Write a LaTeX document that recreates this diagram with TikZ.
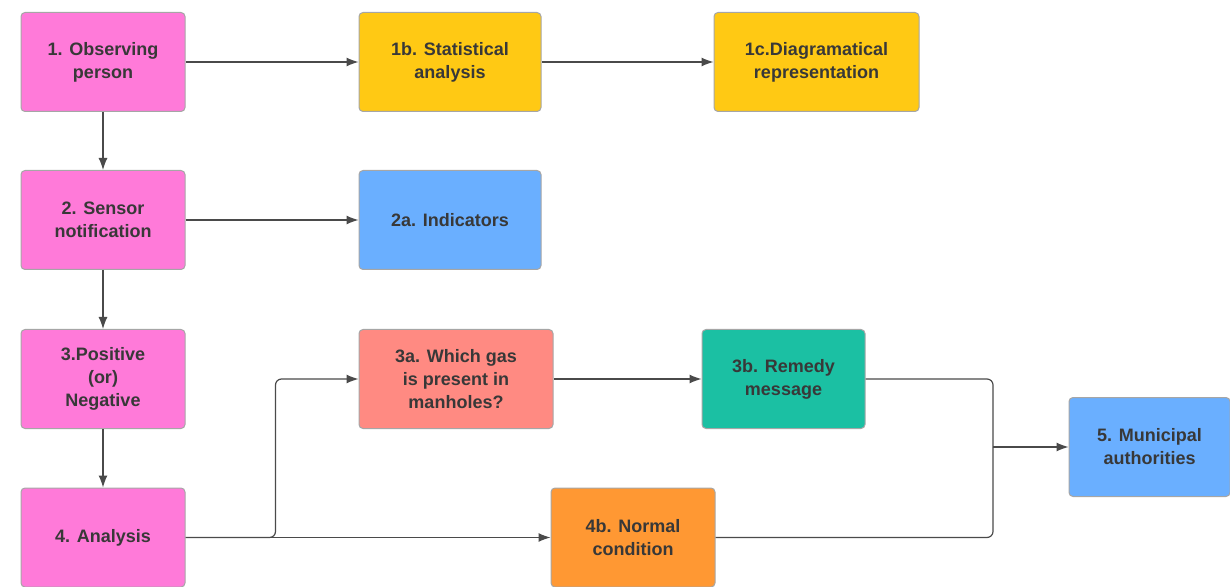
\documentclass[tikz,border=0pt]{standalone}
\usepackage{fontspec}
\setmainfont{Liberation Sans}
\usepackage{tikz}
\usetikzlibrary{arrows.meta}
\definecolor{rosa}{HTML}{FF7AD9}
\definecolor{amarillo}{HTML}{FFC914}
\definecolor{azul}{HTML}{6AAFFF}
\definecolor{salmon}{HTML}{FF8A82}
\definecolor{verde}{HTML}{1BC0A3}
\definecolor{naranja}{HTML}{FF9833}
\definecolor{linea}{HTML}{4A4A4A}
\tikzstyle{caja} = [rectangle, rounded corners=2pt, draw=black!35, line width=0.5pt, text=black!78, font=\fontsize{9}{11.5}\selectfont\bfseries, align=center, minimum height=49.5pt, inner sep=2pt]
\tikzstyle{flecha} = [draw=linea, line width=0.6pt, -{Latex[length=6pt,width=4.5pt]}]
\tikzstyle{linea} = [draw=linea, line width=0.6pt, rounded corners=3pt]

\begin{document}
\begin{tikzpicture}[x=0.5pt, y=-0.5pt]
	\useasboundingbox (0,0) rectangle (1230,587);
	\node[caja, fill=rosa, minimum width=82pt](observing) at (103,62) {1. Observing\\person};
	\node[caja, fill=amarillo, minimum width=91pt](statistical) at (450,62) {1b. Statistical\\analysis};
	\node[caja, fill=amarillo, minimum width=102.5pt](diagram) at (816.5,62) {1c.Diagramatical\\representation};
	\node[caja, fill=rosa, minimum width=82pt](sensor) at (103,220) {2. Sensor\\notification};
	\node[caja, fill=azul, minimum width=91pt](indicators) at (450,220) {2a. Indicators};
	\node[caja, fill=rosa, minimum width=82pt](posneg) at (103,379) {3.Positive\\(or)\\Negative};
	\node[caja, fill=salmon, minimum width=97pt](whichgas) at (456,379) {3a. Which gas\\is present in\\manholes?};
	\node[caja, fill=verde, minimum width=81.5pt](remedy) at (783.5,379) {3b. Remedy\\message};
	\node[caja, fill=rosa, minimum width=82pt](analysis) at (103,537.5) {4. Analysis};
	\node[caja, fill=naranja, minimum width=82pt](normal) at (633,537.5) {4b. Normal\\condition};
	\node[caja, fill=azul, minimum width=80.5pt](municipal) at (1149.5,447) {5. Municipal\\authorities};
	\coordinate (junta) at (993,447);

	\draw[flecha] (observing) -- (statistical);
	\draw[flecha] (statistical) -- (diagram);
	\draw[flecha] (observing) -- (sensor);
	\draw[flecha] (sensor) -- (indicators);
	\draw[flecha] (sensor) -- (posneg);
	\draw[flecha] (posneg) -- (analysis);
	\draw[flecha] (analysis) -- (normal);
	\draw[flecha, rounded corners=3pt] (analysis.east) -- ++(90,0) |- (whichgas.west);
	\draw[flecha] (whichgas) -- (remedy);
	\draw[linea] (remedy.east) -| (junta);
	\draw[linea] (normal.east) -| (junta);
	\draw[flecha] (junta) -- (municipal);
\end{tikzpicture}
\end{document}
